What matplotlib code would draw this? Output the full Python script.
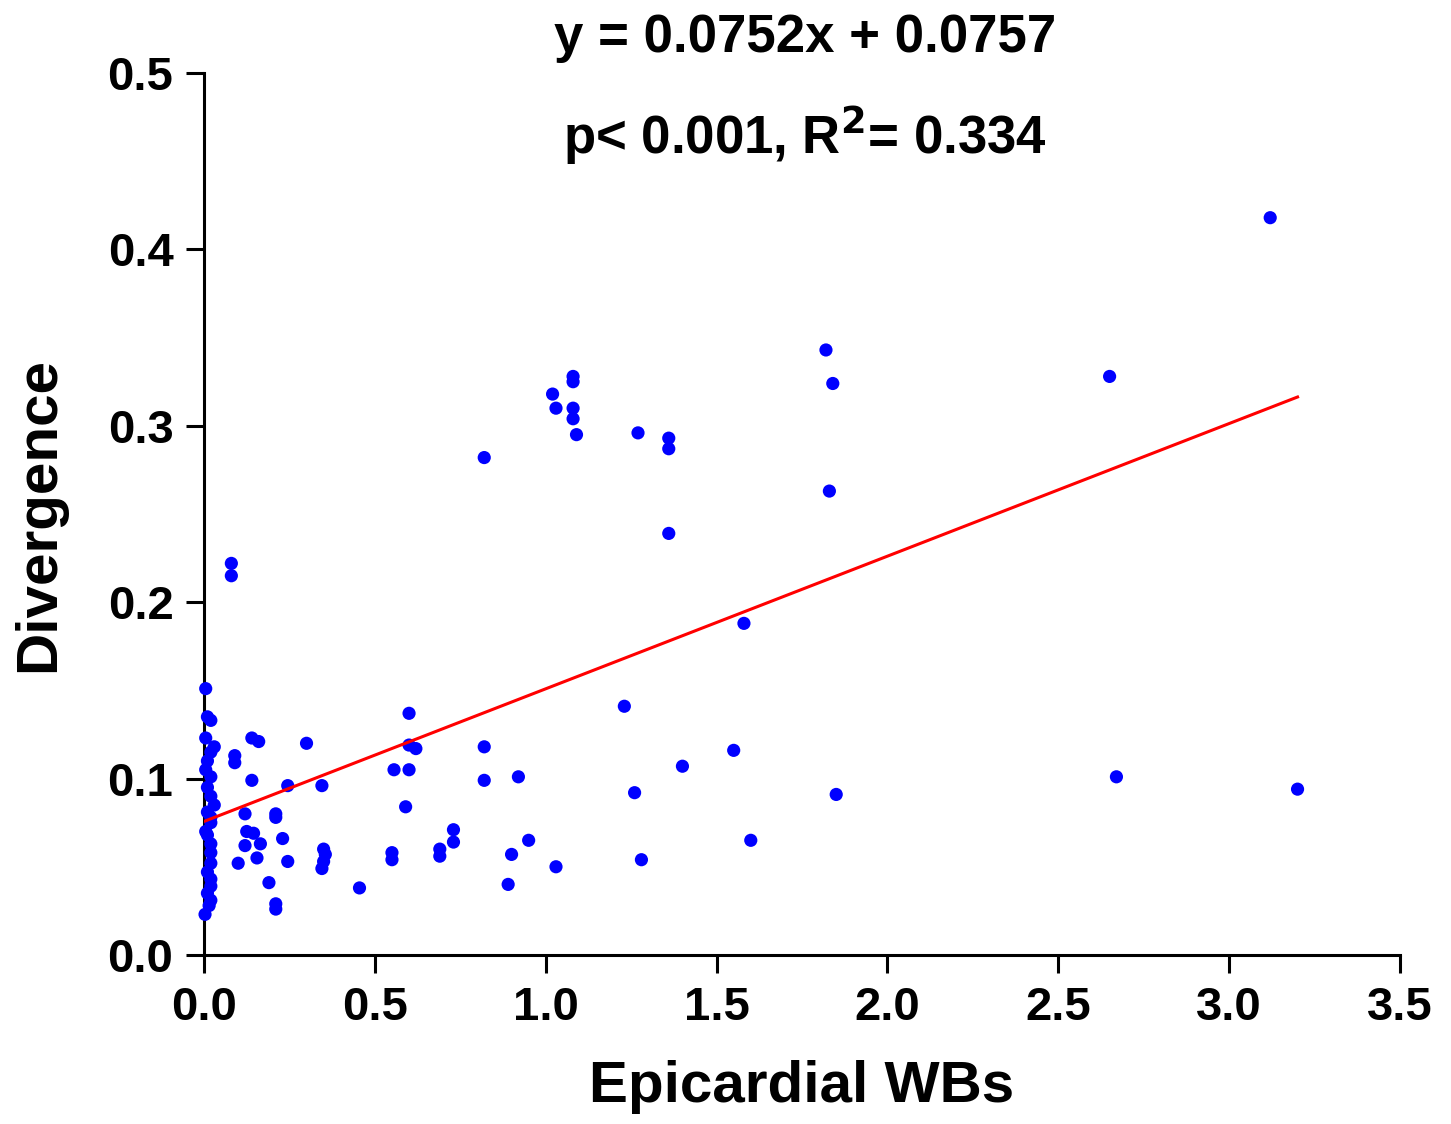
import numpy as np
import matplotlib
matplotlib.use("Agg")
import matplotlib.pyplot as plt

plt.rcParams['font.family'] = ['Liberation Sans Narrow', 'Liberation Sans', 'DejaVu Sans']
plt.rcParams['font.weight'] = 'bold'

# epicardial WBs vs divergence
wbs = [0.005, 0.01, 0.02, 0.005, 0.03, 0.02, 0.01, 0.005, 0.02, 0.01, 0.02, 0.03,
       0.01, 0.02, 0.02, 0.005, 0.02, 0.01, 0.02, 0.02, 0.01, 0.02, 0.02, 0.01,
       0.02, 0.015, 0.003,
       0.08, 0.08, 0.14, 0.16, 0.30, 0.09, 0.09, 0.14, 0.245, 0.345, 0.12, 0.21,
       0.21, 0.125, 0.145, 0.165, 0.12, 0.23, 0.155, 0.245, 0.10, 0.35, 0.355,
       0.35, 0.345, 0.19, 0.455, 0.21, 0.21,
       0.60, 0.60, 0.62, 0.556, 0.60, 0.59, 0.55, 0.55, 0.69, 0.69, 0.73, 0.73,
       0.82, 0.82, 0.82, 0.89, 0.90, 0.92, 0.95, 1.02, 1.03, 1.03,
       1.08, 1.08, 1.08, 1.08, 1.09, 1.23, 1.26, 1.27, 1.28, 1.36, 1.36, 1.36,
       1.40, 1.55, 1.58, 1.60, 1.82, 1.83, 1.84, 1.85, 2.65, 2.67, 3.12, 3.20]
divergence = [0.151, 0.135, 0.133, 0.123, 0.118, 0.115, 0.110, 0.105, 0.101, 0.095,
              0.090, 0.085, 0.081, 0.078, 0.075, 0.070, 0.063, 0.068, 0.058, 0.052,
              0.047, 0.043, 0.039, 0.035, 0.031, 0.028, 0.023,
              0.222, 0.215, 0.123, 0.121, 0.120, 0.113, 0.109, 0.099, 0.096, 0.096,
              0.080, 0.080, 0.078, 0.070, 0.069, 0.063, 0.062, 0.066, 0.055, 0.053,
              0.052, 0.060, 0.057, 0.053, 0.049, 0.041, 0.038, 0.029, 0.026,
              0.137, 0.119, 0.117, 0.105, 0.105, 0.084, 0.058, 0.054, 0.060, 0.056,
              0.071, 0.064, 0.282, 0.118, 0.099, 0.040, 0.057, 0.101, 0.065, 0.318,
              0.310, 0.050,
              0.328, 0.325, 0.310, 0.304, 0.295, 0.141, 0.092, 0.296, 0.054, 0.293,
              0.287, 0.239, 0.107, 0.116, 0.188, 0.065, 0.343, 0.263, 0.324, 0.091,
              0.328, 0.101, 0.418, 0.094]

slope, intercept = 0.0752, 0.0757
fit_x = np.array([0.0, 3.2])
xticks = np.arange(0, 3.51, 0.5)
yticks = np.arange(0, 0.51, 0.1)

fig = plt.figure(figsize=(14.51, 11.24), dpi=100)
ax = fig.add_axes([0.1406, 0.1504, 0.8243, 0.7846])

ax.scatter(wbs, divergence, s=90, color='#0000ff', edgecolors='none', zorder=3, clip_on=False)
ax.plot(fit_x, slope * fit_x + intercept, color='#ff0000', lw=2.2, zorder=4)

ax.set_xlim(0, 3.5)
ax.set_ylim(0, 0.5)
ax.set_xticks(xticks)
ax.set_yticks(yticks)
ax.set_xticklabels(['%.1f' % v for v in xticks])
ax.set_yticklabels(['%.1f' % v for v in yticks])
for s in ['top', 'right']:
    ax.spines[s].set_visible(False)
for s in ['left', 'bottom']:
    ax.spines[s].set_linewidth(2.2)
ax.tick_params(direction='out', length=13, width=2.2, labelsize=34, pad=9)

ax.set_xlabel('Epicardial WBs', fontsize=42, fontweight='bold',
              family=['Liberation Sans', 'DejaVu Sans'], labelpad=22)
ax.set_ylabel('Divergence', fontsize=42, fontweight='bold',
              family=['Liberation Sans', 'DejaVu Sans'], labelpad=30)

fig.text(0.555, 0.966, 'y = 0.0752x + 0.0757', ha='center', va='center',
         fontsize=38, fontweight='bold')
fig.text(0.555, 0.880, 'p< 0.001, R$^{\\mathbf{2}}$= 0.334', ha='center', va='center',
         fontsize=38, fontweight='bold')

fig.savefig('out.png', dpi=100)
